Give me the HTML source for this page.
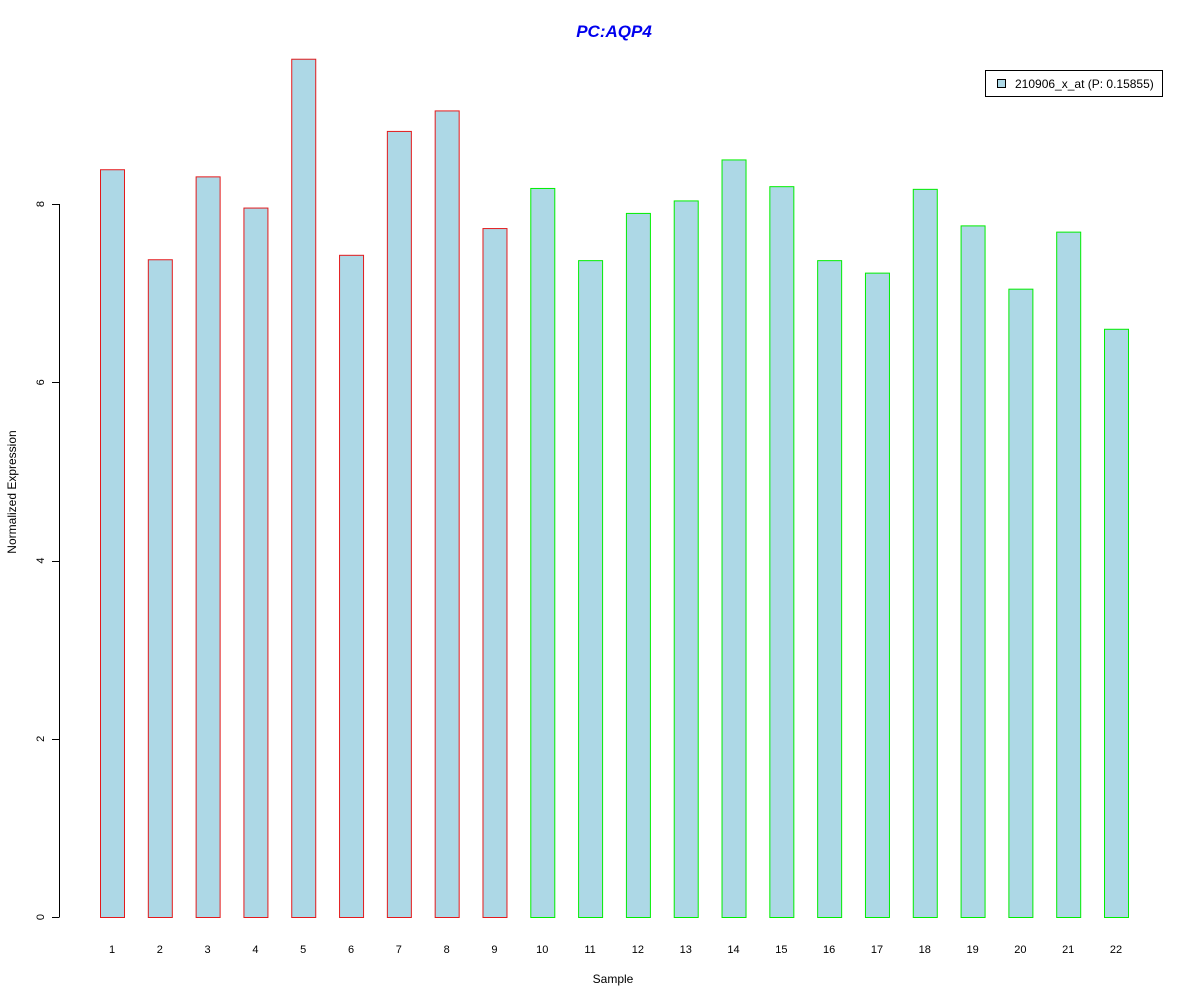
<!DOCTYPE html>
<html><head><meta charset="utf-8"><style>
body{margin:0;background:#fff}
svg{display:block;font-family:"Liberation Sans",Arial,sans-serif}
</style></head><body>
<svg id="chart" width="1200" height="1000">
<text x="614" y="37" text-anchor="middle" font-size="17" font-weight="bold" font-style="italic" fill="#0000ee">PC:AQP4</text>
<g id="bars"></g>
<g id="yaxis"></g>
<g id="xlabels"></g>
<text x="613" y="983" text-anchor="middle" font-size="12">Sample</text>
<text transform="translate(16,492) rotate(-90)" text-anchor="middle" font-size="12">Normalized Expression</text>
<g>
<rect x="985.5" y="70.5" width="177" height="26" fill="#fff" stroke="#000"/>
<rect x="997.5" y="79.5" width="8" height="8" fill="#add8e6" stroke="#000"/>
<text x="1015" y="88" font-size="12">210906_x_at (P: 0.15855)</text>
</g>
</svg>
<script>
const samples=["1","2","3","4","5","6","7","8","9","10","11","12","13","14","15","16","17","18","19","20","21","22"];
const values=[8.39,7.38,8.31,7.96,9.63,7.43,8.82,9.05,7.73,8.18,7.37,7.90,8.04,8.50,8.20,7.37,7.23,8.17,7.76,7.05,7.69,6.60];
const groups=["r","r","r","r","r","r","r","r","r","g","g","g","g","g","g","g","g","g","g","g","g","g"];
const yTicks=[0,2,4,6,8];
const NS="http://www.w3.org/2000/svg";
const y=v=>917-v*89.125;
const xc=i=>112+i*47.81;
const bars=document.getElementById('bars'),xl=document.getElementById('xlabels'),ya=document.getElementById('yaxis');
samples.forEach((s,i)=>{
  const r=document.createElementNS(NS,'rect');
  r.setAttribute('x',xc(i)-12+0.5);r.setAttribute('y',y(values[i])+0.5);
  r.setAttribute('width',24);r.setAttribute('height',917-y(values[i]));
  r.setAttribute('fill','#add8e6');r.setAttribute('stroke',groups[i]==='r'?'#e31a1c':'#00ee00');
  
  
  bars.appendChild(r);
  const t=document.createElementNS(NS,'text');
  t.setAttribute('x',xc(i));t.setAttribute('y',953);t.setAttribute('text-anchor','middle');t.setAttribute('font-size','11');
  t.textContent=s;
  
  
  xl.appendChild(t);
});
const ax=document.createElementNS(NS,'line');
ax.setAttribute('x1',59.5);ax.setAttribute('x2',59.5);ax.setAttribute('y1',y(yTicks[0]));ax.setAttribute('y2',y(yTicks[yTicks.length-1]));ax.setAttribute('stroke','#000');


ya.appendChild(ax);
yTicks.forEach(v=>{
  const l=document.createElementNS(NS,'line');
  l.setAttribute('x1',52);l.setAttribute('x2',59.5);l.setAttribute('y1',Math.round(y(v))+0.5);l.setAttribute('y2',Math.round(y(v))+0.5);l.setAttribute('stroke','#000');
  
  
  ya.appendChild(l);
  const t=document.createElementNS(NS,'text');
  t.setAttribute('transform','translate(44,'+y(v)+') rotate(-90)');t.setAttribute('text-anchor','middle');t.setAttribute('font-size','11');
  t.textContent=v;
  
  
  ya.appendChild(t);
});
</script>
</body></html>
